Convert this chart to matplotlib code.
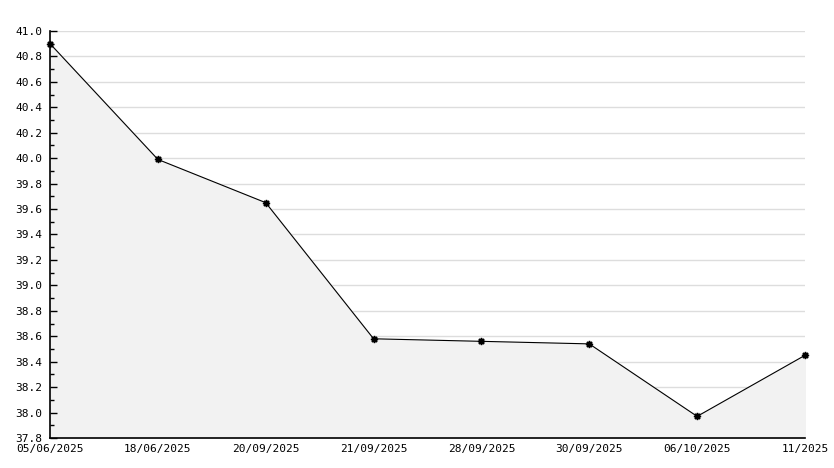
import matplotlib
matplotlib.use("Agg")
import matplotlib.pyplot as plt
from matplotlib.ticker import MultipleLocator

# Data
dates = ['05/06/2025', '18/06/2025', '20/09/2025', '21/09/2025',
         '28/09/2025', '30/09/2025', '06/10/2025', '11/2025']
values = [40.9, 39.99, 39.65, 38.58, 38.56, 38.54, 37.97, 38.45]

fig = plt.figure(figsize=(8.34, 4.68), dpi=100)
ax = fig.add_axes([0.06, 0.0641, 0.9052, 0.8697])

x = list(range(len(dates)))
ax.set_xlim(0, len(dates) - 1)
ax.set_ylim(37.8, 41.0)
ax.yaxis.set_major_locator(MultipleLocator(0.2))
ax.yaxis.set_minor_locator(MultipleLocator(0.1))

# grid lines below the filled area
for t in ax.get_yticks():
    if 37.8 < t <= 41.0 + 1e-9:
        ax.axhline(t, color='#dddddd', linewidth=1, zorder=0.2)

ax.fill_between(x, values, 37.8, color='#f2f2f2', zorder=1)
ax.plot(x, values, color='black', linewidth=0.8, marker=(8, 1, 0),
        markersize=5, markerfacecolor='black', zorder=3, clip_on=False)

ax.set_xticks(x)
ax.set_xticklabels(dates)
ax.set_yticklabels([f'{v:.1f}' for v in ax.get_yticks()])
ax.set_axisbelow(False)

for s in ['top', 'right']:
    ax.spines[s].set_visible(False)
ax.spines['left'].set_linewidth(1.2)
ax.spines['bottom'].set_linewidth(1.2)

ax.tick_params(axis='y', which='major', direction='in', length=5, width=1,
               labelsize=8, pad=5.5)
ax.tick_params(axis='y', which='minor', direction='in', length=3, width=1)
ax.tick_params(axis='x', length=0, labelsize=8, pad=4)
for lbl in ax.get_xticklabels() + ax.get_yticklabels():
    lbl.set_family('DejaVu Sans Mono')

fig.savefig('out.png', dpi=100)
